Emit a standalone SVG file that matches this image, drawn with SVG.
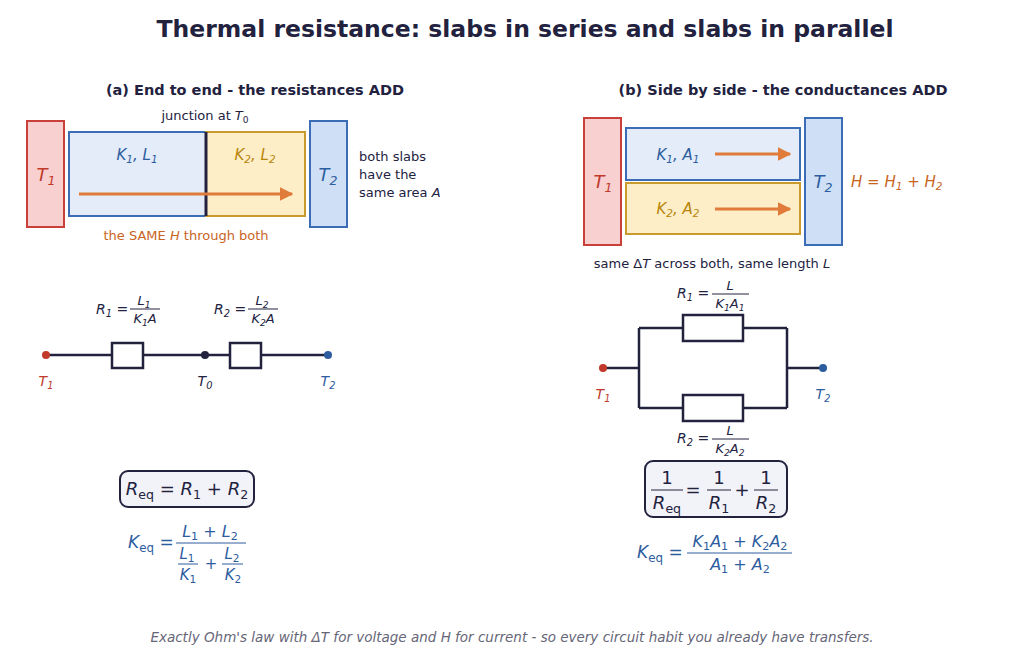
<svg xmlns="http://www.w3.org/2000/svg" width="1024" height="665" viewBox="0 0 1024 665">
<style>
text{font-family:"DejaVu Sans","Liberation Sans",sans-serif;fill:#22223f}
.i{font-style:italic}
.sub{font-size:70%}
.red{fill:#c0392b}.blu{fill:#2e5d9f}.gold{fill:#b8860b}.org{fill:#c8641e}
.wire{stroke:#22223f;stroke-width:2.5;fill:none}
.res{stroke:#22223f;stroke-width:2.5;fill:#fff}
</style>
<defs><marker id="ah" viewBox="0 0 10 10" refX="9" refY="5" markerWidth="4.5" markerHeight="4.5" orient="auto"><path d="M0,0L10,5L0,10z" fill="#e07b39"/></marker></defs>
<rect width="1024" height="665" fill="#fff"/>
<text x="525" y="37" text-anchor="middle" font-size="23.5" font-weight="bold">Thermal resistance: slabs in series and slabs in parallel</text>
<text x="255" y="95" text-anchor="middle" font-size="14.5" font-weight="bold">(a) End to end - the resistances ADD</text>
<text x="783" y="95" text-anchor="middle" font-size="14.5" font-weight="bold">(b) Side by side - the conductances ADD</text>

<g id="a-T1"><rect x="27" y="121" width="37" height="106" fill="#f8d0d0" stroke="#c9403a" stroke-width="2"/><text x="46" y="181" text-anchor="middle" font-size="18" class="i red">T<tspan class="sub" dy="4">1</tspan></text></g>
<g id="a-K1"><rect x="69" y="132" width="137" height="84" fill="#e3ecf8" stroke="#3a6db5" stroke-width="2"/><text x="137" y="160" text-anchor="middle" font-size="15" class="i blu">K<tspan class="sub" dy="3">1</tspan><tspan dy="-3">, L</tspan><tspan class="sub" dy="3">1</tspan></text></g>
<g id="a-K2"><rect x="206" y="132" width="99" height="84" fill="#fdeec8" stroke="#c99a2e" stroke-width="2"/><text x="255" y="160" text-anchor="middle" font-size="15" class="i gold">K<tspan class="sub" dy="3">2</tspan><tspan dy="-3">, L</tspan><tspan class="sub" dy="3">2</tspan></text></g>
<line x1="206" y1="132" x2="206" y2="216" stroke="#22223f" stroke-width="3"/>
<g id="a-T2"><rect x="310" y="121" width="37" height="106" fill="#cfe0f6" stroke="#3a6db5" stroke-width="2"/><text x="328" y="181" text-anchor="middle" font-size="18" class="i blu">T<tspan class="sub" dy="4">2</tspan></text></g>
<text x="205" y="120" text-anchor="middle" font-size="13">junction at <tspan class="i">T</tspan><tspan class="sub" dy="3">0</tspan></text>
<text font-size="13"><tspan x="359" y="161">both slabs</tspan><tspan x="359" y="179">have the</tspan><tspan x="359" y="197">same area <tspan class="i">A</tspan></tspan></text>
<text x="186" y="240" text-anchor="middle" font-size="13" class="org">the SAME <tspan class="i">H</tspan> through both</text>

<g id="b-T1"><rect x="584" y="118" width="37" height="127" fill="#f8d0d0" stroke="#c9403a" stroke-width="2"/><text x="603" y="188" text-anchor="middle" font-size="18" class="i red">T<tspan class="sub" dy="4">1</tspan></text></g>
<g id="b-K1"><rect x="626" y="128" width="174" height="52" fill="#e3ecf8" stroke="#3a6db5" stroke-width="2"/><text x="678" y="160" text-anchor="middle" font-size="15" class="i blu">K<tspan class="sub" dy="3">1</tspan><tspan dy="-3">, A</tspan><tspan class="sub" dy="3">1</tspan></text></g>
<g id="b-K2"><rect x="626" y="183" width="174" height="51" fill="#fdeec8" stroke="#c99a2e" stroke-width="2"/><text x="678" y="214" text-anchor="middle" font-size="15" class="i gold">K<tspan class="sub" dy="3">2</tspan><tspan dy="-3">, A</tspan><tspan class="sub" dy="3">2</tspan></text></g>
<g id="b-T2"><rect x="805" y="118" width="37" height="127" fill="#cfe0f6" stroke="#3a6db5" stroke-width="2"/><text x="823" y="188" text-anchor="middle" font-size="18" class="i blu">T<tspan class="sub" dy="4">2</tspan></text></g>
<text x="851" y="187" font-size="15" class="i org">H = H<tspan class="sub" dy="3">1</tspan><tspan dy="-3"> + H</tspan><tspan class="sub" dy="3">2</tspan></text>
<text x="712" y="268" text-anchor="middle" font-size="13">same Δ<tspan class="i">T</tspan> across both,  same length <tspan class="i">L</tspan></text>

<g id="connectors">
<line x1="79" y1="194" x2="292" y2="194" stroke="#e07b39" stroke-width="3" marker-end="url(#ah)"/>
<line x1="715" y1="154" x2="790" y2="154" stroke="#e07b39" stroke-width="3" marker-end="url(#ah)"/>
<line x1="715" y1="209" x2="790" y2="209" stroke="#e07b39" stroke-width="3" marker-end="url(#ah)"/>
<path class="wire" d="M46,355H112M143,355H230M261,355H328"/>
<path class="wire" d="M603,368H639M639,328V408M639,328H683M743,328H787M639,408H683M743,408H787M787,328V408M787,368H823"/>
</g>

<g id="series-circuit">
<rect class="res" x="112" y="343" width="31" height="25"/>
<rect class="res" x="230" y="343" width="31" height="25"/>
<circle cx="46" cy="355" r="4" fill="#c0392b"/><circle cx="205" cy="355" r="4" fill="#22223f"/><circle cx="328" cy="355" r="4" fill="#2e5d9f"/>
<text x="46" y="386" text-anchor="middle" font-size="14" class="i red">T<tspan class="sub" dy="3">1</tspan></text>
<text x="205" y="386" text-anchor="middle" font-size="14" class="i">T<tspan class="sub" dy="3">0</tspan></text>
<text x="328" y="386" text-anchor="middle" font-size="14" class="i blu">T<tspan class="sub" dy="3">2</tspan></text>
<text x="96" y="314" font-size="14" class="i">R<tspan class="sub" dy="3">1</tspan><tspan dy="-3" font-style="normal"> = </tspan></text>
<text x="144" y="305" text-anchor="middle" font-size="13" class="i">L<tspan class="sub" dy="3">1</tspan></text>
<line x1="130" y1="309" x2="160" y2="309" stroke="#22223f"/>
<text x="145" y="323" text-anchor="middle" font-size="13" class="i">K<tspan class="sub" dy="3">1</tspan><tspan dy="-3">A</tspan></text>
<text x="214" y="314" font-size="14" class="i">R<tspan class="sub" dy="3">2</tspan><tspan dy="-3" font-style="normal"> = </tspan></text>
<text x="262" y="305" text-anchor="middle" font-size="13" class="i">L<tspan class="sub" dy="3">2</tspan></text>
<line x1="248" y1="309" x2="278" y2="309" stroke="#22223f"/>
<text x="263" y="323" text-anchor="middle" font-size="13" class="i">K<tspan class="sub" dy="3">2</tspan><tspan dy="-3">A</tspan></text>
</g>

<g id="parallel-circuit">
<rect class="res" x="683" y="315" width="60" height="26"/>
<rect class="res" x="683" y="395" width="60" height="26"/>
<circle cx="603" cy="368" r="4" fill="#c0392b"/><circle cx="823" cy="368" r="4" fill="#2e5d9f"/>
<text x="603" y="399" text-anchor="middle" font-size="14" class="i red">T<tspan class="sub" dy="3">1</tspan></text>
<text x="823" y="399" text-anchor="middle" font-size="14" class="i blu">T<tspan class="sub" dy="3">2</tspan></text>
<text x="677" y="298" font-size="14" class="i">R<tspan class="sub" dy="3">1</tspan><tspan dy="-3" font-style="normal"> = </tspan></text>
<text x="730" y="290" text-anchor="middle" font-size="13" class="i">L</text>
<line x1="712" y1="294" x2="749" y2="294" stroke="#22223f"/>
<text x="730" y="308" text-anchor="middle" font-size="13" class="i">K<tspan class="sub" dy="3">1</tspan><tspan dy="-3">A</tspan><tspan class="sub" dy="3">1</tspan></text>
<text x="677" y="443" font-size="14" class="i">R<tspan class="sub" dy="3">2</tspan><tspan dy="-3" font-style="normal"> = </tspan></text>
<text x="730" y="435" text-anchor="middle" font-size="13" class="i">L</text>
<line x1="712" y1="439" x2="749" y2="439" stroke="#22223f"/>
<text x="730" y="453" text-anchor="middle" font-size="13" class="i">K<tspan class="sub" dy="3">2</tspan><tspan dy="-3">A</tspan><tspan class="sub" dy="3">2</tspan></text>
</g>

<g id="req-series"><rect x="120" y="471" width="134" height="36" rx="8" fill="#f2f3f8" stroke="#22223f" stroke-width="2"/>
<text x="187" y="495" text-anchor="middle" font-size="18" class="i">R<tspan class="sub" font-style="normal" dy="4">eq</tspan><tspan dy="-4" font-style="normal"> = </tspan>R<tspan class="sub" font-style="normal" dy="4">1</tspan><tspan dy="-4" font-style="normal"> + </tspan>R<tspan class="sub" font-style="normal" dy="4">2</tspan></text></g>
<g id="keq-series">
<text x="128" y="548" font-size="17" class="i blu">K<tspan class="sub" font-style="normal" dy="4">eq</tspan><tspan dy="-4" font-style="normal"> = </tspan></text>
<text x="210" y="537" text-anchor="middle" font-size="16" class="i blu">L<tspan class="sub" font-style="normal" dy="3">1</tspan><tspan dy="-3" font-style="normal"> + </tspan>L<tspan class="sub" font-style="normal" dy="3">2</tspan></text>
<line x1="176" y1="543" x2="246" y2="543" stroke="#2e5d9f"/>
<text x="187" y="559" text-anchor="middle" font-size="15" class="i blu">L<tspan class="sub" font-style="normal" dy="3">1</tspan></text>
<line x1="178" y1="564" x2="198" y2="564" stroke="#2e5d9f"/>
<text x="188" y="580" text-anchor="middle" font-size="15" class="i blu">K<tspan class="sub" font-style="normal" dy="3">1</tspan></text>
<text x="211" y="569" text-anchor="middle" font-size="15" class="blu">+</text>
<text x="232" y="559" text-anchor="middle" font-size="15" class="i blu">L<tspan class="sub" font-style="normal" dy="3">2</tspan></text>
<line x1="222" y1="564" x2="243" y2="564" stroke="#2e5d9f"/>
<text x="233" y="580" text-anchor="middle" font-size="15" class="i blu">K<tspan class="sub" font-style="normal" dy="3">2</tspan></text>
</g>

<g id="req-parallel"><rect x="645" y="461" width="142" height="56" rx="8" fill="#f2f3f8" stroke="#22223f" stroke-width="2"/>
<text x="667" y="484" text-anchor="middle" font-size="18">1</text>
<line x1="651" y1="490" x2="683" y2="490" stroke="#22223f"/>
<text x="667" y="509" text-anchor="middle" font-size="18" class="i">R<tspan class="sub" font-style="normal" dy="4">eq</tspan></text>
<text x="693" y="496" text-anchor="middle" font-size="18">=</text>
<text x="719" y="484" text-anchor="middle" font-size="18">1</text>
<line x1="707" y1="490" x2="731" y2="490" stroke="#22223f"/>
<text x="719" y="509" text-anchor="middle" font-size="18" class="i">R<tspan class="sub" font-style="normal" dy="4">1</tspan></text>
<text x="742" y="496" text-anchor="middle" font-size="18">+</text>
<text x="766" y="484" text-anchor="middle" font-size="18">1</text>
<line x1="754" y1="490" x2="778" y2="490" stroke="#22223f"/>
<text x="766" y="509" text-anchor="middle" font-size="18" class="i">R<tspan class="sub" font-style="normal" dy="4">2</tspan></text></g>
<g id="keq-parallel">
<text x="637" y="558" font-size="17" class="i blu">K<tspan class="sub" font-style="normal" dy="4">eq</tspan><tspan dy="-4" font-style="normal"> = </tspan></text>
<text x="740" y="547" text-anchor="middle" font-size="16" class="i blu">K<tspan class="sub" font-style="normal" dy="3">1</tspan><tspan dy="-3">A</tspan><tspan class="sub" font-style="normal" dy="3">1</tspan><tspan dy="-3" font-style="normal"> + </tspan>K<tspan class="sub" font-style="normal" dy="3">2</tspan><tspan dy="-3">A</tspan><tspan class="sub" font-style="normal" dy="3">2</tspan></text>
<line x1="687" y1="553" x2="792" y2="553" stroke="#2e5d9f"/>
<text x="740" y="570" text-anchor="middle" font-size="16" class="i blu">A<tspan class="sub" font-style="normal" dy="3">1</tspan><tspan dy="-3" font-style="normal"> + </tspan>A<tspan class="sub" font-style="normal" dy="3">2</tspan></text>
</g>
<text x="512" y="642" text-anchor="middle" font-size="13.5" class="i" style="fill:#666677">Exactly Ohm's law with ΔT for voltage and H for current - so every circuit habit you already have transfers.</text>
</svg>
